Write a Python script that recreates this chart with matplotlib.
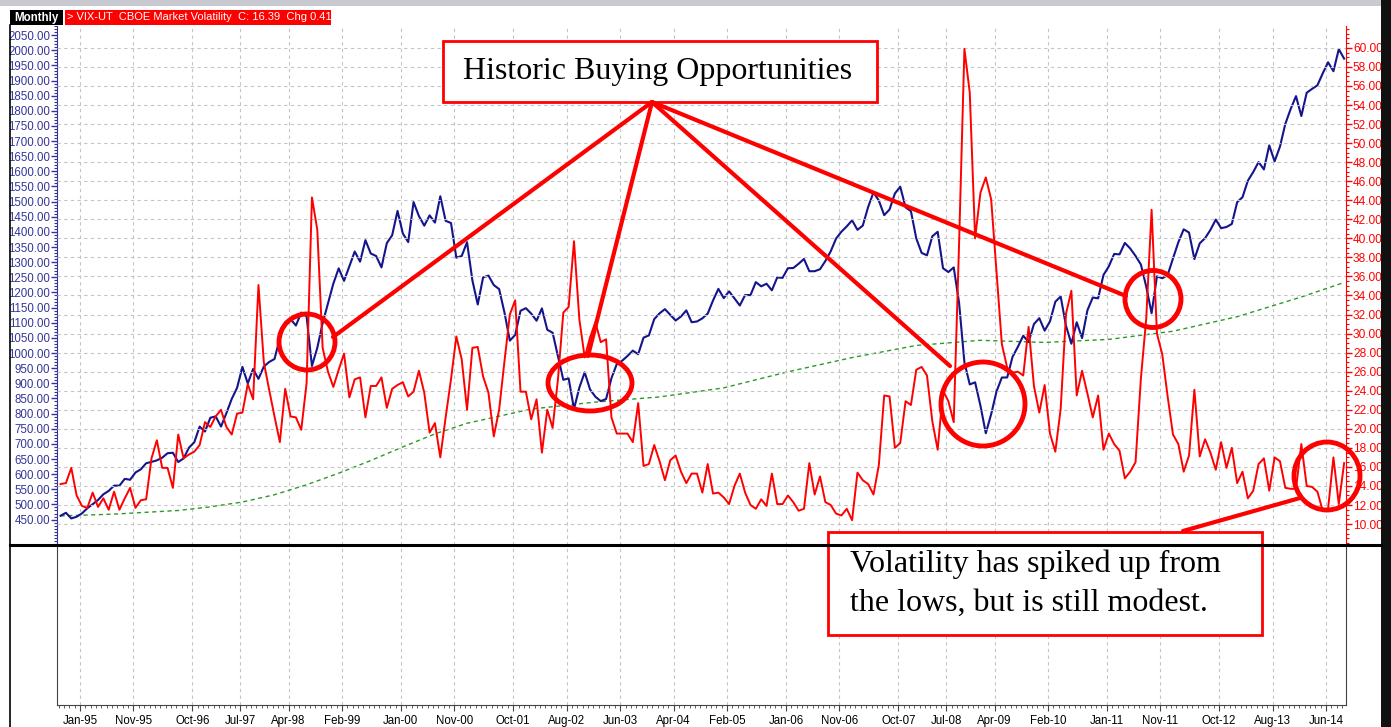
import matplotlib
matplotlib.use("Agg")
import matplotlib.pyplot as plt
from matplotlib.patches import Ellipse, Rectangle
from matplotlib.ticker import FixedLocator, MultipleLocator, FormatStrFormatter

W, H = 1391, 727

# S&P 500 monthly closes, Sep-94 .. Sep-14
spx = [462.7, 472.4, 453.7, 459.3,
       470.4, 487.4, 500.7, 514.7, 533.4, 544.8, 562.1, 561.9, 584.4, 581.5, 605.4, 615.9,
       636.0, 640.4, 645.5, 654.2, 669.1, 670.6, 640.0, 652.0, 687.3, 705.3, 757.0, 740.7,
       786.2, 790.8, 757.1, 801.3, 848.3, 885.1, 954.3, 899.5, 947.3, 914.6, 955.4, 970.4,
       980.3, 1049.3, 1101.8, 1111.8, 1090.8, 1133.8, 1120.7, 957.3, 1017.0, 1098.7, 1163.6, 1229.2,
       1279.6, 1238.3, 1286.4, 1335.2, 1301.8, 1372.7, 1328.7, 1320.4, 1282.7, 1362.9, 1388.9, 1469.3,
       1394.5, 1366.4, 1498.6, 1452.4, 1420.6, 1454.6, 1430.8, 1517.7, 1436.5, 1429.4, 1315.0, 1320.3,
       1366.0, 1239.9, 1160.3, 1249.5, 1255.8, 1224.4, 1211.2, 1133.6, 1040.9, 1059.8, 1139.5, 1148.1,
       1130.2, 1106.7, 1147.4, 1076.9, 1067.1, 989.8, 911.6, 916.1, 815.3, 885.8, 936.3, 879.8,
       855.7, 841.2, 848.2, 916.9, 963.6, 974.5, 990.3, 1008.0, 996.0, 1050.7, 1058.2, 1111.9,
       1131.1, 1144.9, 1126.2, 1107.3, 1120.7, 1140.8, 1101.7, 1104.2, 1114.6, 1130.2, 1173.8, 1211.9,
       1181.3, 1203.6, 1180.6, 1156.9, 1191.5, 1191.3, 1234.2, 1220.3, 1228.8, 1207.0, 1249.5, 1248.3,
       1280.1, 1280.7, 1294.8, 1310.6, 1270.1, 1270.2, 1276.7, 1303.8, 1335.9, 1377.9, 1400.6, 1418.3,
       1438.2, 1406.8, 1420.9, 1482.4, 1530.6, 1503.4, 1455.3, 1474.0, 1526.8, 1549.4, 1481.1, 1468.4,
       1378.6, 1330.6, 1322.7, 1385.6, 1400.4, 1280.0, 1267.4, 1282.8, 1166.4, 968.8, 896.2, 903.3,
       825.9, 735.1, 797.9, 872.8, 919.1, 919.3, 987.5, 1020.6, 1057.1, 1036.2, 1095.6, 1115.1,
       1073.9, 1104.5, 1169.4, 1186.7, 1089.4, 1030.7, 1101.6, 1049.3, 1141.2, 1183.3, 1180.6, 1257.6,
       1286.1, 1327.2, 1325.8, 1363.6, 1345.2, 1320.6, 1292.3, 1218.9, 1131.4, 1253.3, 1247.0, 1257.6,
       1312.4, 1365.7, 1408.5, 1397.9, 1310.3, 1362.2, 1379.3, 1406.6, 1440.7, 1412.2, 1416.2, 1426.2,
       1498.1, 1514.7, 1569.2, 1597.6, 1630.7, 1606.3, 1685.7, 1633.0, 1681.6, 1756.5, 1805.8, 1848.4,
       1782.6, 1859.5, 1872.3, 1884.0, 1923.6, 1960.2, 1930.7, 2003.4, 1972.3]

# VIX monthly closes, Sep-94 .. Sep-14
vix = [14.2, 14.3, 15.9, 13.0,
       11.9, 11.7, 13.3, 11.8, 12.7, 11.5, 13.4, 11.5, 12.7, 13.8, 11.7, 12.5,
       12.6, 16.9, 18.8, 15.9, 15.9, 13.8, 19.4, 16.9, 17.3, 17.6, 18.3, 20.7,
       20.2, 21.3, 22.0, 20.2, 19.4, 21.6, 21.7, 24.7, 23.1, 35.1, 27.0, 24.1,
       21.3, 18.6, 24.2, 21.3, 21.2, 19.9, 24.8, 44.3, 40.9, 28.5, 26.0, 24.4,
       26.2, 27.9, 23.3, 25.2, 25.4, 21.2, 24.5, 24.5, 25.4, 22.2, 24.2, 24.6,
       24.9, 23.4, 23.9, 26.1, 23.8, 19.6, 20.6, 17.0, 21.2, 25.2, 29.7, 27.3,
       22.0, 28.5, 28.6, 25.5, 23.8, 19.2, 22.0, 27.1, 32.0, 33.5, 23.9, 23.9,
       21.0, 23.1, 17.5, 22.0, 20.1, 25.2, 32.2, 32.8, 39.7, 31.5, 27.5, 29.6,
       31.2, 29.1, 29.4, 21.2, 19.5, 19.5, 19.5, 18.6, 22.7, 16.1, 16.3, 18.3,
       16.6, 14.6, 16.7, 17.2, 15.5, 14.3, 15.3, 15.3, 13.3, 16.3, 13.2, 13.3,
       12.8, 12.1, 14.0, 15.3, 13.3, 12.0, 11.6, 12.6, 11.9, 15.3, 12.1, 12.1,
       13.0, 12.3, 11.4, 11.6, 16.4, 13.1, 15.0, 12.3, 12.0, 11.1, 10.9, 11.6,
       10.4, 15.4, 14.6, 14.2, 13.1, 16.2, 23.5, 23.4, 18.0, 18.5, 22.9, 22.5,
       26.2, 26.5, 25.6, 20.8, 17.8, 24.0, 22.9, 20.7, 39.4, 59.9, 55.3, 40.0,
       44.8, 46.4, 44.1, 36.5, 28.9, 26.4, 25.9, 26.0, 25.6, 30.7, 24.5, 21.7,
       24.6, 19.5, 17.6, 22.1, 32.1, 34.5, 23.5, 26.1, 23.7, 21.2, 23.5, 17.8,
       19.5, 18.4, 17.7, 14.8, 15.5, 16.5, 25.3, 31.6, 43.0, 30.0, 27.8, 23.4,
       19.4, 18.4, 15.5, 17.2, 24.1, 17.1, 18.9, 17.5, 15.7, 18.6, 15.9, 18.0,
       14.3, 15.5, 12.7, 13.5, 16.3, 16.9, 13.5, 17.0, 16.6, 13.8, 13.7, 13.7,
       18.4, 14.0, 13.9, 13.4, 11.4, 11.6, 17.0, 12.1, 16.4]

# long moving average of the index (green dotted), read every half year or so
ma_month = [-4, 6, 18, 24, 30, 36, 42, 48, 54, 60, 66, 72, 84, 96, 108, 120,
            132, 144, 156, 168, 180, 192, 204, 216, 228, 236]
ma_val = [462, 468, 480, 492, 508, 532, 565, 603, 645, 690, 733, 768, 815, 838, 855, 885,
          938, 985, 1025, 1042, 1035, 1045, 1072, 1120, 1185, 1233]

# month index (0 = Jan-95) of labelled ticks
tick_month = [0, 10, 21, 30, 39, 49, 60, 70, 81, 91, 101, 111, 121, 132, 142, 153,
              162, 171, 181, 192, 202, 213, 223, 233]
tick_lab = ["Jan-95", "Nov-95", "Oct-96", "Jul-97", "Apr-98", "Feb-99", "Jan-00", "Nov-00",
            "Oct-01", "Aug-02", "Jun-03", "Apr-04", "Feb-05", "Jan-06", "Nov-06", "Oct-07",
            "Jul-08", "Apr-09", "Feb-10", "Jan-11", "Nov-11", "Oct-12", "Aug-13", "Jun-14"]

months = list(range(-4, len(spx) - 4))
TOFF = 0.37   # gridline sits a little left of the monthly point
xlim = (-4.67, 236.35)

NAVY = "#14148c"
LBLUE = "#34349a"
RED = "#ff0000"
GRID = "#c4c4c4"
FONT = ["Liberation Sans Narrow", "Liberation Sans", "DejaVu Sans"]


def box(l, t, r, b):
    return [l / W, 1 - b / H, (r - l) / W, (b - t) / H]


fig = plt.figure(figsize=(W / 100, H / 100), dpi=100)
fig.patch.set_facecolor("white")

# ---- main panel
ax = fig.add_axes(box(57, 26, 1346, 545))
ax2 = ax.twinx()
ax.set_xlim(*xlim)
ax.set_ylim(366, 2080)
ax2.set_ylim(7.8, 62.3)

ax.plot(ma_month, ma_val, color="#2a9a2a", lw=1.0, ls=(0, (3, 2.5)), zorder=2)
ax.plot(months, spx, color=NAVY, lw=1.5, zorder=3)
ax2.plot(months, vix, color=RED, lw=1.4, zorder=3)

ax.set_xticks([m - TOFF for m in tick_month])
ax.tick_params(axis="x", length=0, labelbottom=False)
ax.grid(axis="x", color=GRID, ls=(0, (3, 3)), lw=0.8)

ax.yaxis.set_major_locator(FixedLocator(range(450, 2051, 50)))
ax.yaxis.set_minor_locator(MultipleLocator(10))
ax.yaxis.set_major_formatter(FormatStrFormatter("%.2f"))
ax.tick_params(axis="y", which="major", length=4, width=1, color=LBLUE,
               labelcolor=LBLUE, labelsize=8.3, pad=1)
ax.tick_params(axis="y", which="minor", length=2, width=0.8, color=LBLUE)
for lab in ax.get_yticklabels():
    lab.set_family(FONT)

ax2.yaxis.set_major_locator(FixedLocator(range(10, 61, 2)))
ax2.yaxis.set_minor_locator(MultipleLocator(0.5))
ax2.yaxis.set_major_formatter(FormatStrFormatter("%.2f"))
ax2.tick_params(axis="y", which="major", length=4, width=1, color=RED,
                labelcolor=RED, labelsize=8.6, pad=1)
ax2.tick_params(axis="y", which="minor", length=2, width=0.8, color=RED)
for lab in ax2.get_yticklabels():
    lab.set_family(FONT)
ax2.grid(axis="y", color=GRID, ls=(0, (3, 3)), lw=0.8)

for a in (ax, ax2):
    a.spines["top"].set_visible(False)
    a.spines["bottom"].set_visible(False)
ax.spines["left"].set_color(LBLUE)
ax2.spines["left"].set_visible(False)
ax2.spines["right"].set_color(RED)
ax.spines["right"].set_visible(False)

# ---- lower (empty) panel with the date axis
axb = fig.add_axes(box(57, 545, 1346, 705))
axb.set_xlim(*xlim)
axb.set_ylim(0, 1)
axb.set_yticks([])
axb.set_xticks([m - TOFF for m in tick_month])
axb.set_xticklabels(tick_lab, family=FONT, fontsize=8.3)
axb.xaxis.set_minor_locator(FixedLocator([m - TOFF for m in months]))
axb.tick_params(axis="x", which="major", length=4, width=0.8, color="#444444", pad=3)
axb.tick_params(axis="x", which="minor", length=2, width=0.6, color="#444444")
axb.grid(axis="x", color=GRID, ls=(0, (3, 3)), lw=0.8)
for s in ("left", "right", "bottom"):
    axb.spines[s].set_color("#444444")
axb.spines["top"].set_visible(False)

# ---- overlay in pixel coordinates: frame, header and annotations
ov = fig.add_axes([0, 0, 1, 1], zorder=10)
ov.set_xlim(0, W)
ov.set_ylim(H, 0)
ov.axis("off")

ov.add_patch(Rectangle((0, 0), W, 6, color="#c9c9d2", lw=0))
ov.add_patch(Rectangle((1381, 0), 10, H, color="#111111", lw=0))
ov.plot([10, 10], [25, H], color="black", lw=1.2)
ov.plot([10, 1381], [545, 545], color="black", lw=2.2)

ov.add_patch(Rectangle((10, 10), 53, 15, color="black", lw=0))
ov.text(36, 17.5, "Monthly", color="white", fontsize=8.3, fontweight="bold",
        ha="center", va="center", family=FONT)
ov.add_patch(Rectangle((65, 10), 266, 15, color="#ff0000", lw=0))
ov.text(67, 17.5, "> VIX-UT  CBOE Market Volatility  C: 16.39  Chg 0.41", color="white",
        fontsize=8.0, ha="left", va="center", family=FONT)

LW = 3.0
ov.add_patch(Rectangle((443, 41), 434, 61, facecolor="white", edgecolor=RED, lw=2))
ov.text(658, 72, "Historic Buying Opportunities", fontsize=23, family="Liberation Serif",
        ha="center", va="center")
src = (652, 102)
for end in [(333, 337), (588, 356), (950, 366), (1126, 296)]:
    ov.plot([src[0], end[0]], [src[1], end[1]], color=RED, lw=LW, solid_capstyle="round")

for (cx, cy, w, h) in [(307, 342, 56, 56), (590, 383, 84, 56), (983, 404, 84, 84),
                       (1153, 299, 56, 57), (1327, 476, 66, 68)]:
    ov.add_patch(Ellipse((cx, cy), w, h, fill=False, edgecolor=RED, lw=3.5))

ov.plot([1183, 1300], [531, 498], color=RED, lw=LW, solid_capstyle="round")
ov.add_patch(Rectangle((828, 532), 434, 103, facecolor="white", edgecolor=RED, lw=2))
ov.text(850, 564, "Volatility has spiked up from", fontsize=23, family="Liberation Serif",
        ha="left", va="center")
ov.text(850, 603, "the lows, but is still modest.", fontsize=23, family="Liberation Serif",
        ha="left", va="center")

fig.savefig("out.png", dpi=100)
